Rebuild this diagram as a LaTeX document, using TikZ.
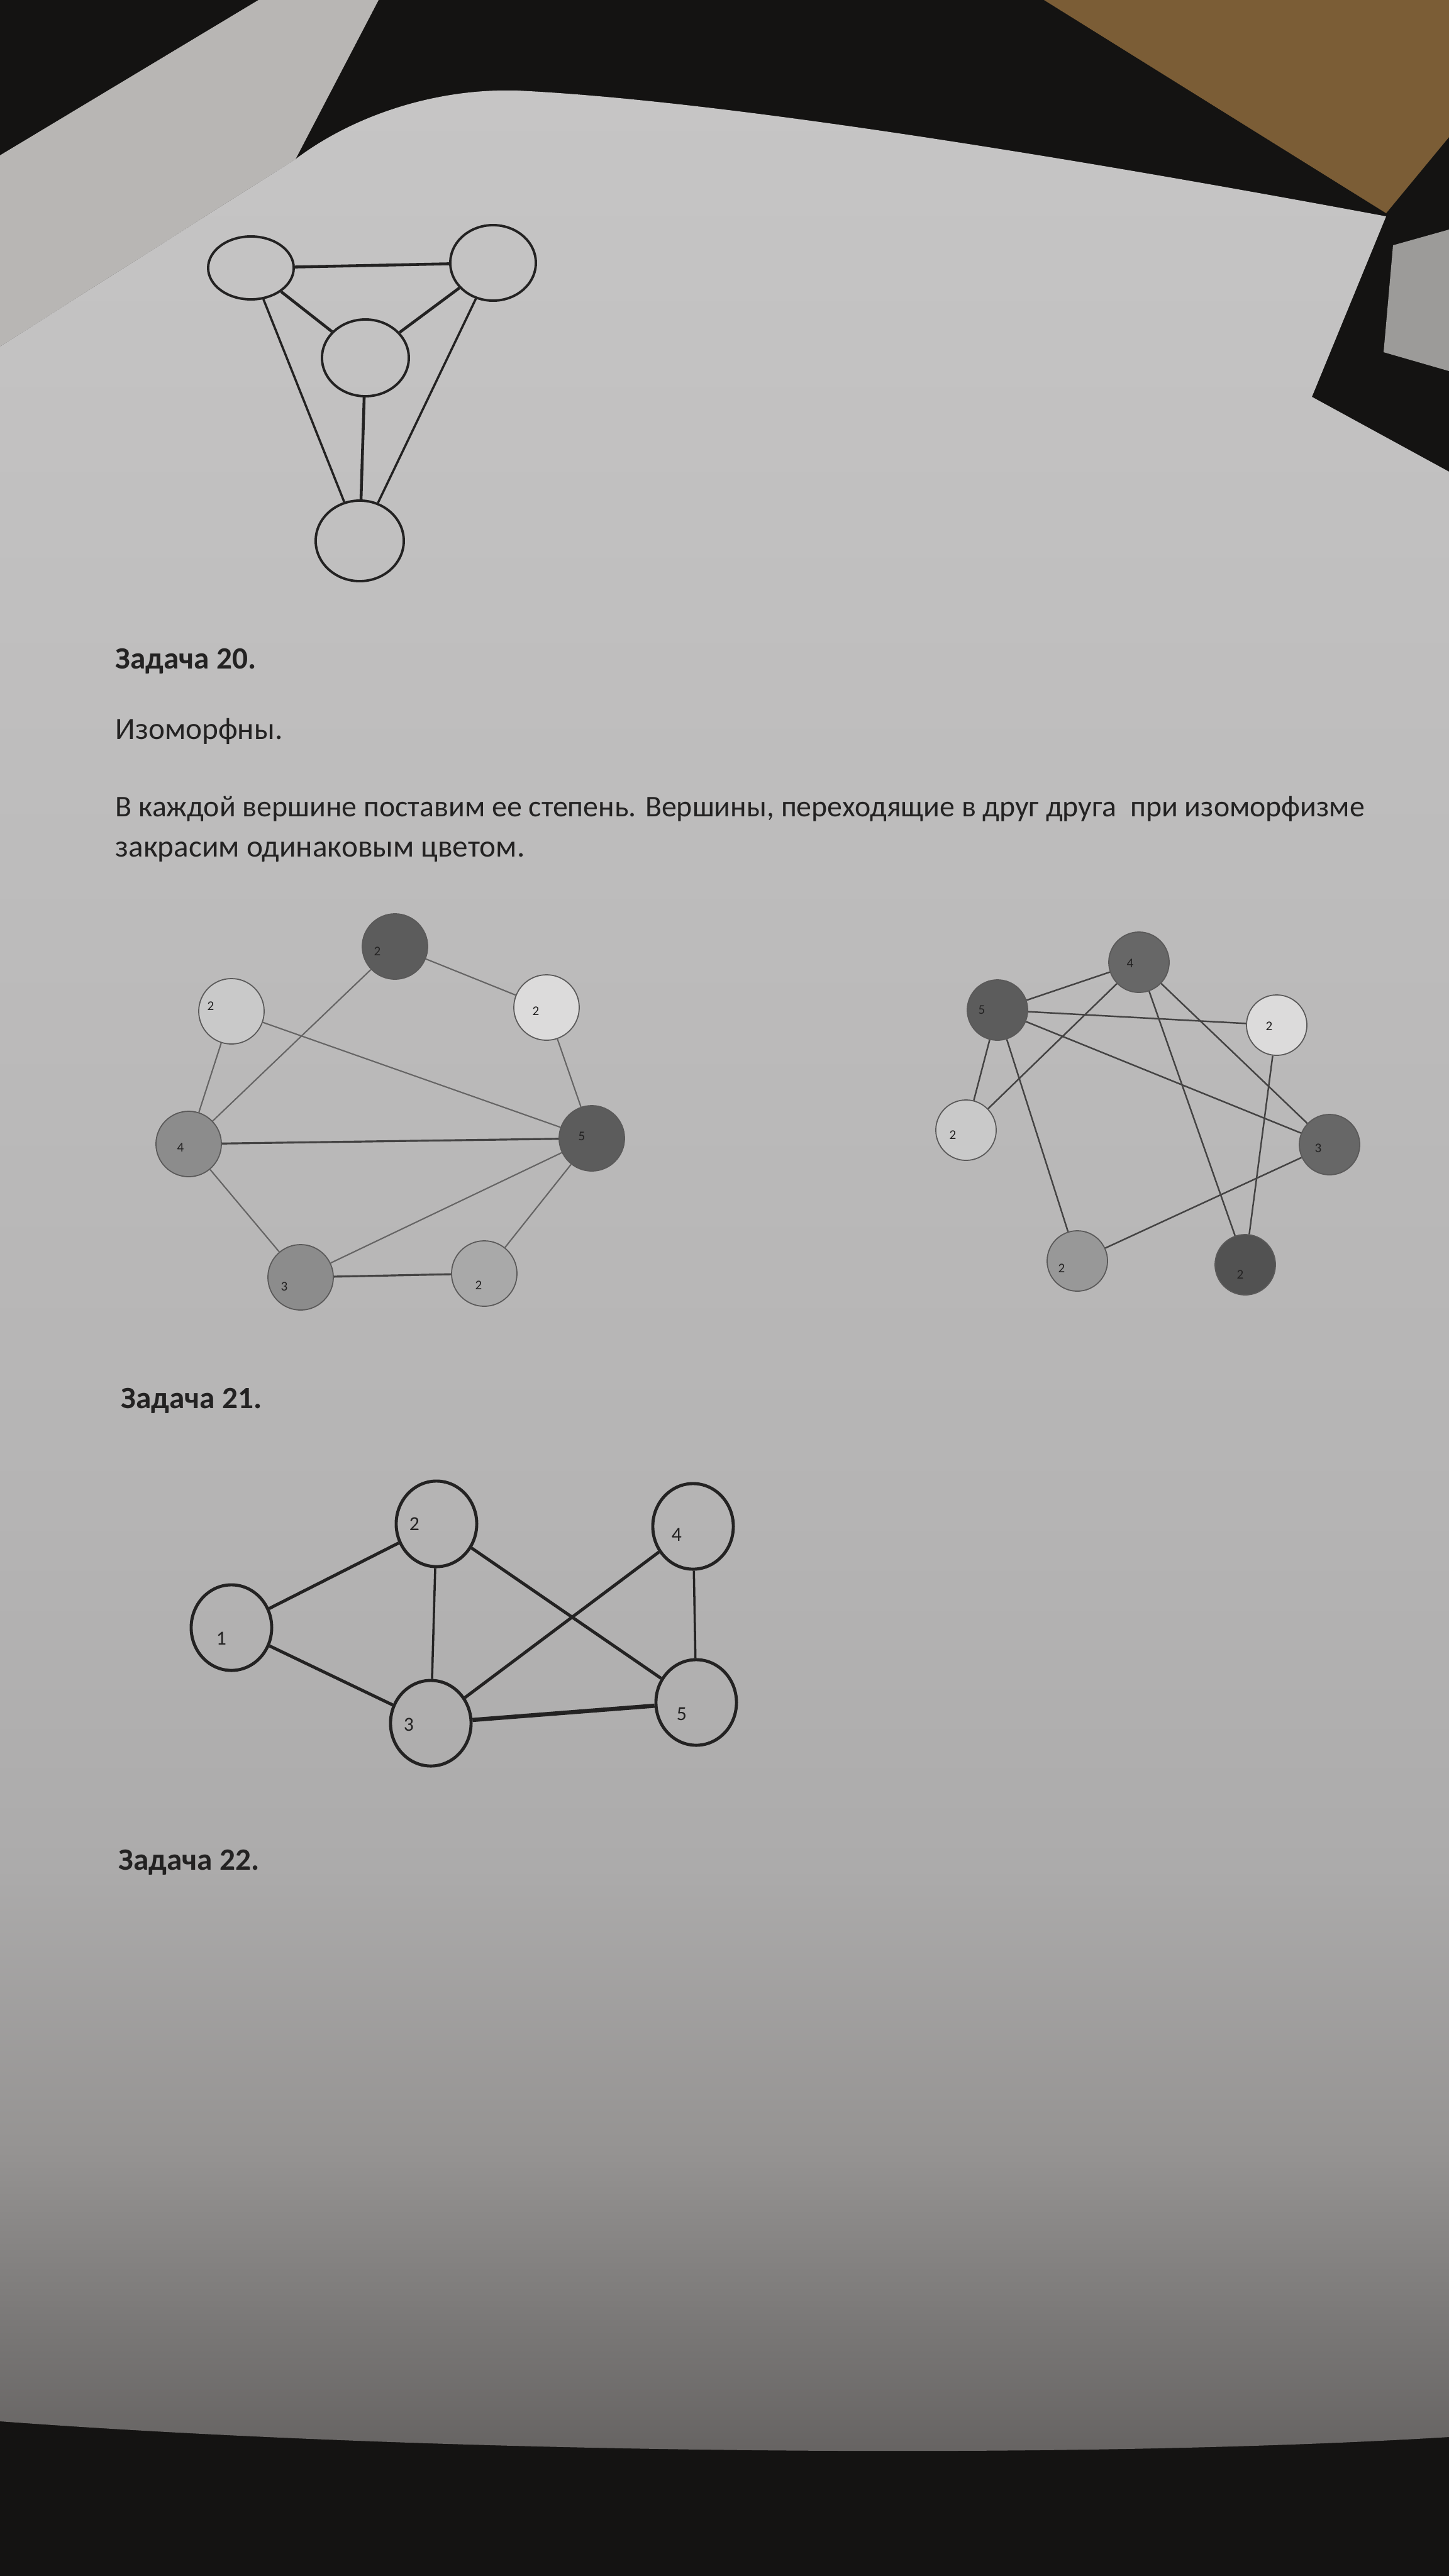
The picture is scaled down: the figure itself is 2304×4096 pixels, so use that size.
\documentclass[tikz,border=0pt]{standalone}
\usepackage{fontspec}
\setmainfont{Carlito}
\usetikzlibrary{shapes.geometric}

\definecolor{ink}{HTML}{232222}
\definecolor{darkbg}{HTML}{141312}
\definecolor{sheet}{HTML}{B8B6B4}
\definecolor{wood}{HTML}{7B5D36}
\definecolor{pwhite}{HTML}{DCDBDB}
\definecolor{plight}{HTML}{C9C9C9}
\definecolor{pgrayA}{HTML}{A9A9A9}
\definecolor{pgrayB}{HTML}{8C8C8C}
\definecolor{pgrayC}{HTML}{989898}
\definecolor{pdarkA}{HTML}{5C5C5C}
\definecolor{pdarkB}{HTML}{676767}
\definecolor{pdarkC}{HTML}{525252}
\definecolor{paper0}{HTML}{656261}
\definecolor{paper1}{HTML}{777574}
\definecolor{paper2}{HTML}{959392}
\definecolor{paper3}{HTML}{ACABAB}
\definecolor{paper4}{HTML}{B5B4B4}
\definecolor{paper5}{HTML}{BCBBBB}
\definecolor{paper6}{HTML}{C6C5C5}
% the path is mapped onto 25bp..75bp of the shading
\pgfdeclareverticalshading{paperfade}{100bp}{color(0bp)=(paper0); color(25bp)=(paper0);
  color(27.5bp)=(paper1); color(31.5bp)=(paper2); color(37.5bp)=(paper3); color(45bp)=(paper4);
  color(57bp)=(paper5); color(75bp)=(paper6); color(100bp)=(paper6)}

\begin{document}
\begin{tikzpicture}[x=0.01cm,y=-0.01cm]
\tikzstyle{every node}=[inner sep=0pt,text=ink]
\tikzstyle{heading}=[font=\fontsize{14}{17}\selectfont\bfseries,anchor=base west]
\tikzstyle{body}=[font=\fontsize{14}{17}\selectfont,anchor=base west]
\tikzstyle{big vertex}=[draw=ink,line width=1.1pt,ellipse]
\tikzstyle{small vertex}=[draw=ink!75,line width=0.5pt,circle,minimum size=1.04cm]
\tikzstyle{tiny vertex}=[small vertex,minimum size=0.96cm]
\tikzstyle{num vertex}=[draw=ink,line width=1.4pt,ellipse,minimum width=1.28cm,minimum height=1.36cm]
\tikzstyle{deg}=[font=\fontsize{6}{7}\selectfont]
\tikzstyle{num}=[font=\fontsize{9}{10}\selectfont]

% photo background
\useasboundingbox (0,0) rectangle (2304,4096);
\fill[darkbg] (0,0) rectangle (2304,4096);
\fill[wood] (1660,0) -- (2304,0) -- (2304,218) -- (2204,339) -- cycle;
\fill[sheet] (0,247) -- (411,0) -- (602,0) -- (470,253) -- (0,551) -- cycle;
\fill[sheet!85!black] (2215,390) -- (2304,365) -- (2304,590) -- (2200,560) -- cycle;
\shade[shading=paperfade] (0,551) -- (470,253) .. controls (560,185) and (690,140) .. (823,144)
  .. controls (1150,160) and (1700,250) .. (2204,344) -- (2086,631) -- (2304,750) -- (2304,3875)
  .. controls (1700,3912) and (700,3902) .. (0,3850) -- cycle;

% graph at the top
\node[big vertex,minimum width=1.36cm,minimum height=1.0cm] (t1) at (399,426) {};
\node[big vertex,minimum width=1.36cm,minimum height=1.2cm] (t2) at (784,418) {};
\node[big vertex,minimum width=1.38cm,minimum height=1.22cm] (t3) at (581,569) {};
\node[big vertex,minimum width=1.40cm,minimum height=1.28cm] (t4) at (572,860) {};
\path[draw=ink,line width=1.3pt]
    (t1) edge (t2)
    (t1) edge (t3)
    (t2) edge (t3)
    (t3) edge (t4);
\path[draw=ink,line width=1pt]
    (t1) edge (t4)
    (t2) edge (t4);

% texts
\node[heading] (z20) at (183,1063) {Задача 20.};
\node[body] (iso) at (183,1175) {Изоморфны.};
\node[body,font=\fontsize{13.6}{17}\selectfont] (line1) at (183,1298)
    {В каждой вершине поставим ее степень. Вершины, переходящие в друг друга~ при изоморфизме};
\node[body] (line2) at (183,1362) {закрасим одинаковым цветом.};
\node[heading] (z21) at (192,2239) {Задача 21.};
\node[heading] (z22) at (188,2973) {Задача 22.};

% left graph
\node[small vertex,fill=pdarkA,label={[deg,xshift=-0.28cm,yshift=-0.08cm]center:2}] (l1) at (628,1505) {};
\node[small vertex,fill=plight,label={[deg,xshift=-0.33cm,yshift=0.08cm]center:2}] (l2) at (368,1608) {};
\node[small vertex,fill=pwhite,label={[deg,xshift=-0.17cm,yshift=-0.06cm]center:2}] (l3) at (869,1602) {};
\node[small vertex,fill=pgrayB,label={[deg,xshift=-0.13cm,yshift=-0.06cm]center:4}] (l4) at (300,1819) {};
\node[small vertex,fill=pdarkA,label={[deg,xshift=-0.16cm,yshift=0.03cm]center:5}] (l5) at (941,1810) {};
\node[small vertex,fill=pgrayB,label={[deg,xshift=-0.26cm,yshift=-0.15cm]center:3}] (l6) at (478,2031) {};
\node[small vertex,fill=pgrayA,label={[deg,xshift=-0.09cm,yshift=-0.19cm]center:2}] (l7) at (770,2025) {};
\path[draw=ink!70,line width=0.6pt]
    (l1) edge (l3)
    (l1) edge (l4)
    (l2) edge (l4)
    (l2) edge (l5)
    (l3) edge (l5)
    (l4) edge (l6)
    (l5) edge (l6)
    (l5) edge (l7);
\path[draw=ink!85,line width=0.9pt]
    (l4) edge (l5)
    (l6) edge (l7);

% right graph
\node[tiny vertex,fill=pdarkB,label={[deg,xshift=-0.14cm,yshift=-0.02cm]center:4}] (r1) at (1811,1530) {};
\node[tiny vertex,fill=pdarkA,label={[deg,xshift=-0.25cm]center:5}] (r2) at (1586,1606) {};
\node[tiny vertex,fill=pwhite,label={[deg,xshift=-0.12cm,yshift=-0.02cm]center:2}] (r3) at (2030,1630) {};
\node[tiny vertex,fill=plight,label={[deg,xshift=-0.21cm,yshift=-0.08cm]center:2}] (r4) at (1536,1797) {};
\node[tiny vertex,fill=pdarkB,label={[deg,xshift=-0.18cm,yshift=-0.06cm]center:3}] (r5) at (2114,1820) {};
\node[tiny vertex,fill=pgrayC,label={[deg,xshift=-0.25cm,yshift=-0.12cm]center:2}] (r6) at (1713,2005) {};
\node[tiny vertex,fill=pdarkC,label={[deg,xshift=-0.08cm,yshift=-0.16cm]center:2}] (r7) at (1980,2011) {};
\path[draw=ink!85,line width=0.7pt]
    (r2) edge (r1)
    (r2) edge (r3)
    (r2) edge (r5)
    (r2) edge (r4)
    (r2) edge (r6)
    (r1) edge (r4)
    (r1) edge (r7)
    (r1) edge (r5)
    (r3) edge (r7)
    (r5) edge (r6);

% graph of problem 21
\node[num vertex,label={[num,xshift=-0.16cm,yshift=-0.17cm]center:1}] (v1) at (368,2588) {};
\node[num vertex,label={[num,xshift=-0.35cm]center:2}] (v2) at (694,2423) {};
\node[num vertex,label={[num,xshift=-0.35cm,yshift=-0.02cm]center:3}] (v3) at (685,2740) {};
\node[num vertex,label={[num,xshift=-0.26cm,yshift=-0.13cm]center:4}] (v4) at (1102,2427) {};
\node[num vertex,label={[num,xshift=-0.23cm,yshift=-0.18cm]center:5}] (v5) at (1107,2707) {};
\path[draw=ink,line width=1.4pt]
    (v1) edge (v2)
    (v1) edge (v3)
    (v2) edge (v5)
    (v3) edge (v4);
\path[draw=ink,line width=1pt]
    (v2) edge (v3)
    (v4) edge (v5);
\path[draw=ink,line width=1.9pt]
    (v3) edge (v5);

\end{tikzpicture}
\end{document}
